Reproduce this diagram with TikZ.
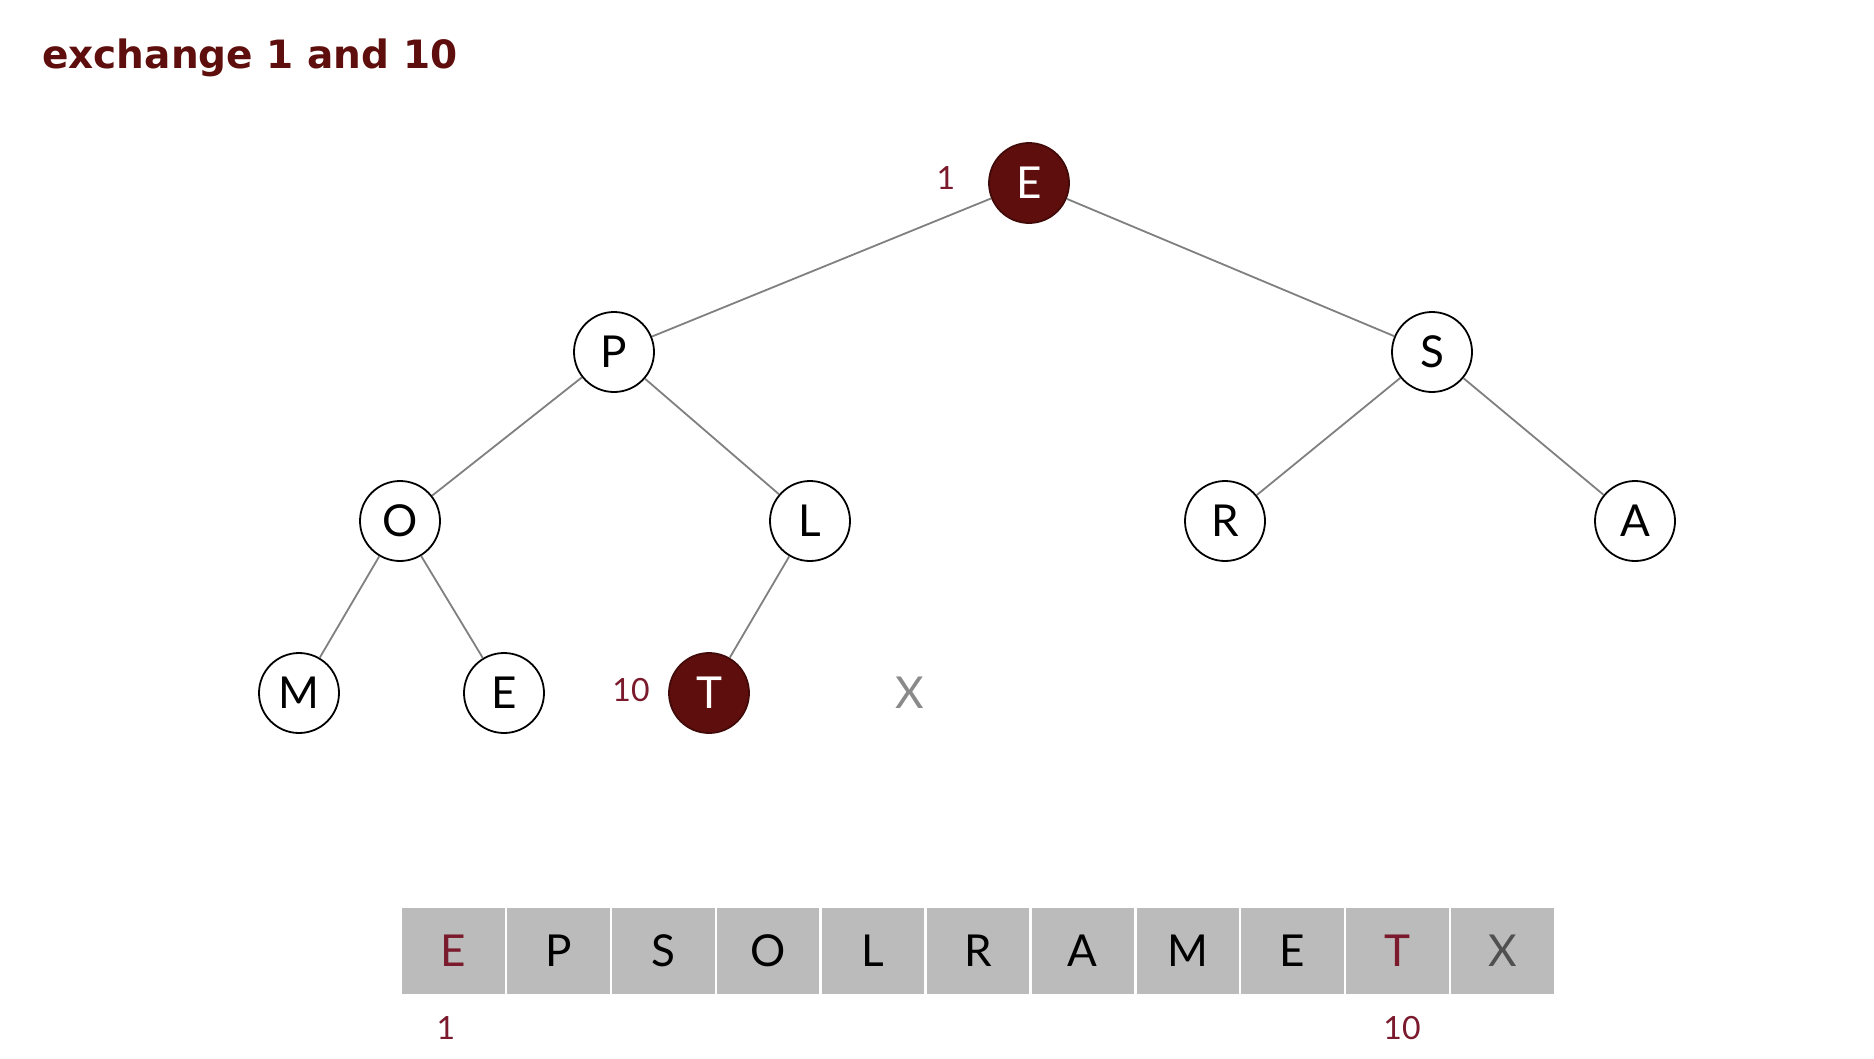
\documentclass[tikz,border=0pt]{standalone}
\usepackage{fontspec}
\setmainfont{Lato}
\newfontfamily\titlefont{DejaVu Sans}
\definecolor{heapred}{HTML}{5E0E0C}
\definecolor{labred}{HTML}{7A1A2C}
\definecolor{edgegray}{HTML}{808080}
\definecolor{cellgray}{HTML}{BBBBBB}
\definecolor{xgray}{HTML}{8A8A8A}
\definecolor{xdark}{HTML}{505050}
\begin{document}
\begin{tikzpicture}[x=1pt,y=-1pt,
  heapnode/.style={circle,draw=black,line width=1.8pt,fill=white,minimum size=80pt,inner sep=0pt,font=\fontsize{44}{48}\selectfont},
  hotnode/.style={heapnode,fill=heapred,draw=heapred!70!black,text=white},
  edge/.style={draw=edgegray,line width=1.8pt},
  idxlab/.style={text=labred,font=\fontsize{32}{36}\selectfont,inner sep=0pt},
  cell/.style={rectangle,fill=cellgray,minimum width=102.5pt,minimum height=86pt,inner sep=0pt,font=\fontsize{44}{48}\selectfont}]
\useasboundingbox (0,0) rectangle (1874,1058);
\fill[white] (0,0) rectangle (1874,1058);
\node[anchor=base west,inner sep=0pt,text=heapred] (title) at (42,68) {\titlefont\bfseries\fontsize{39}{44}\selectfont exchange 1 and 10};
% tree
\node[hotnode] (n1) at (1029,183) {E};
\node[heapnode] (n2) at (614,352) {P};
\node[heapnode] (n3) at (1432,352) {S};
\node[heapnode] (n4) at (400,521) {O};
\node[heapnode] (n5) at (810,521) {L};
\node[heapnode] (n6) at (1225,521) {R};
\node[heapnode] (n7) at (1635,521) {A};
\node[heapnode] (n8) at (299,693) {M};
\node[heapnode] (n9) at (504,693) {E};
\node[hotnode] (n10) at (709,693) {T};
\node[text=xgray,font=\fontsize{44}{48}\selectfont,inner sep=0pt] (n11) at (910,693) {X};
\node[idxlab] (l1) at (946,178) {1};
\node[idxlab] (l10) at (631,690) {10};
\draw[edge] (n1) -- (n2);
\draw[edge] (n1) -- (n3);
\draw[edge] (n2) -- (n4);
\draw[edge] (n2) -- (n5);
\draw[edge] (n3) -- (n6);
\draw[edge] (n3) -- (n7);
\draw[edge] (n4) -- (n8);
\draw[edge] (n4) -- (n9);
\draw[edge] (n5) -- (n10);
% array
\foreach \i/\c/\col in {0/E/labred,1/P/black,2/S/black,3/O/black,4/L/black,5/R/black,6/A/black,7/M/black,8/E/black,9/T/labred,10/X/xdark}{
  \node[cell,text=\col] (a\i) at ({401+104.9*(\i+0.5)},951) {\c};
}
\node[idxlab] (b1) at (446,1028) {1};
\node[idxlab] (b10) at (1402,1028) {10};
\end{tikzpicture}
\end{document}
